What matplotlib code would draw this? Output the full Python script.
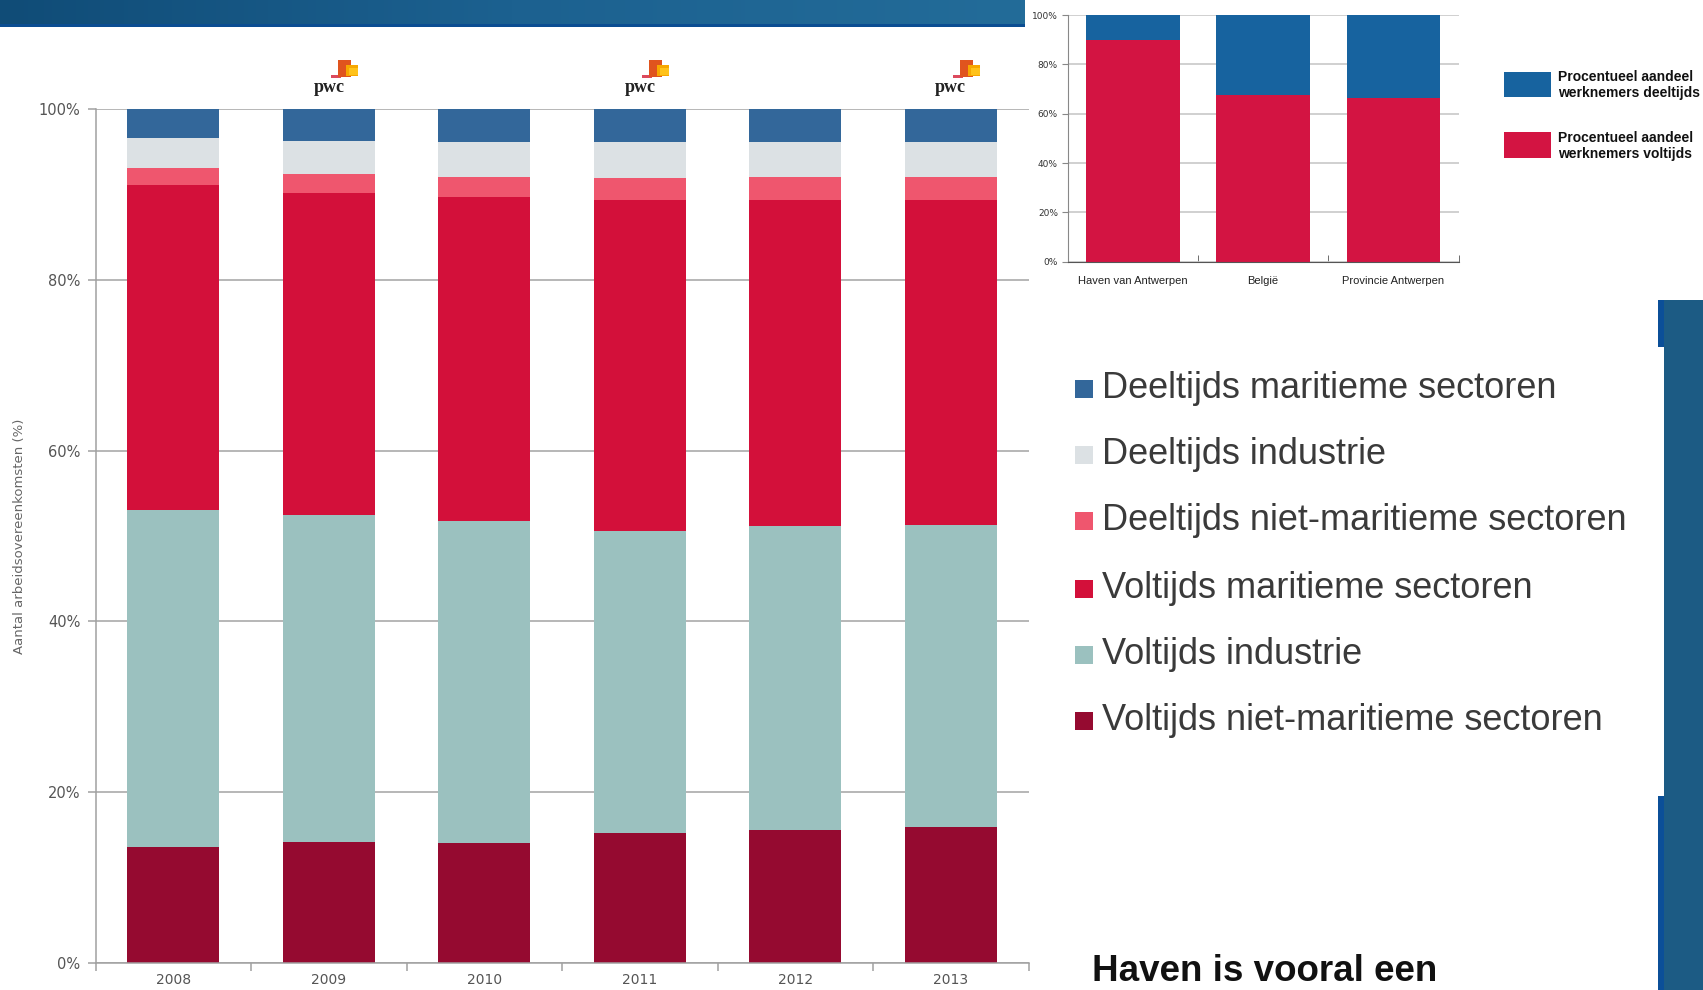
import numpy as np
import matplotlib.pyplot as plt
from matplotlib.patches import Rectangle
from matplotlib.colors import LinearSegmentedColormap

W, H = 1703, 990

# arbeidsovereenkomsten per jaar (%), van onder naar boven gestapeld
years = ['2008', '2009', '2010', '2011', '2012', '2013']
voltijds_niet_maritiem = [13.6, 14.2, 14.1, 15.2, 15.6, 15.9]
voltijds_industrie = [39.4, 38.2, 37.6, 35.4, 35.6, 35.4]
voltijds_maritiem = [38.1, 37.7, 38.0, 38.7, 38.1, 38.0]
deeltijds_niet_maritiem = [2.0, 2.3, 2.3, 2.6, 2.7, 2.7]
deeltijds_industrie = [3.5, 3.8, 4.1, 4.2, 4.1, 4.1]
deeltijds_maritiem = [3.4, 3.8, 3.9, 3.9, 3.9, 3.9]

series_names = ['Voltijds niet-maritieme sectoren', 'Voltijds industrie',
                'Voltijds maritieme sectoren', 'Deeltijds niet-maritieme sectoren',
                'Deeltijds industrie', 'Deeltijds maritieme sectoren']
series_colors = ['#950a30', '#9bc1bf', '#d3103a', '#ef566e', '#dce1e4', '#33679a']

# vergelijking voltijds / deeltijds
regions = ['Haven van Antwerpen', 'België', 'Provincie Antwerpen']
aandeel_voltijds = [89.9, 67.8, 66.5]
aandeel_deeltijds = [10.1, 32.2, 33.5]


def fig_box(x0, y0, x1, y1):
    # pixel box (top-left origin) -> figure fraction rect
    return [x0 / W, 1 - y1 / H, (x1 - x0) / W, (y1 - y0) / H]


def add_rect(fig, x0, y0, x1, y1, color):
    l, b, w, h = fig_box(x0, y0, x1, y1)
    fig.add_artist(Rectangle((l, b), w, h, transform=fig.transFigure,
                             facecolor=color, edgecolor='none'))


fig = plt.figure(figsize=(W / 100, H / 100), dpi=100)

# header band with gradient
band = fig.add_axes(fig_box(0, 0, 1025, 24))
grad = np.linspace(0, 1, 256).reshape(1, -1)
cmap = LinearSegmentedColormap.from_list('band', ['#104c77', '#1c6190', '#236c99'])
band.imshow(grad, aspect='auto', cmap=cmap)
band.axis('off')
add_rect(fig, 0, 24, 1025, 27, '#0b4d92')

# main stacked chart
ax = fig.add_axes(fig_box(95.6, 108.6, 1028.5, 963.4))
x = np.arange(len(years))
data = [voltijds_niet_maritiem, voltijds_industrie, voltijds_maritiem,
        deeltijds_niet_maritiem, deeltijds_industrie, deeltijds_maritiem]
bottom = np.zeros(len(years))
for vals, name, col in zip(data, series_names, series_colors):
    ax.bar(x, vals, 0.59, bottom=bottom, color=col, label=name, zorder=2)
    bottom += np.array(vals)

ax.set_xlim(-0.5, 5.5)
ax.set_ylim(0, 100)
ax.set_yticks([0, 20, 40, 60, 80, 100])
ax.set_yticklabels(['0%', '20%', '40%', '60%', '80%', '100%'])
ax.yaxis.grid(True, color='#a3a3a3', linewidth=1.1, zorder=0)
ax.set_axisbelow(True)
for s in ['top', 'right']:
    ax.spines[s].set_visible(False)
for s in ['left', 'bottom']:
    ax.spines[s].set_color('#a0a0a0')
    ax.spines[s].set_linewidth(1.1)
ax.tick_params(axis='y', length=6, width=1.1, color='#a0a0a0', pad=5,
               labelsize=10.5, labelcolor='#555555')
ax.set_xticks(x)
ax.set_xticklabels(years)
ax.set_xticks(np.arange(-0.5, 6, 1), minor=True)
ax.tick_params(axis='x', which='major', length=0, pad=7, labelsize=10,
               labelcolor='#555555')
ax.tick_params(axis='x', which='minor', length=6, width=1.1, color='#a0a0a0')
fig.text(20 / W, 1 - 536 / H, 'Aantal arbeidsovereenkomsten (%)', rotation=90,
         ha='center', va='center', fontsize=9.5, color='#666666')


def ax_y(ypix):
    return (963.4 - ypix) / (963.4 - 108.6)


# pwc logos above 2009, 2011, 2013
px_per_unit = (1028.5 - 95.6) / 6
trans = ax.get_xaxis_transform()
for i in [1, 3, 5]:
    ax.text(i, ax_y(88), 'pwc', transform=trans, ha='center', va='center',
            fontsize=13, fontweight='bold', family='Liberation Serif',
            color='#222222', clip_on=False)
    pieces = [(2, 75.5, 12, 77.5, '#dc4a5e'),
              (9, 60, 22, 77, '#e0541e'),
              (17, 65, 29, 76.5, '#f7a800'),
              (20, 68, 29, 75, '#ffc21a')]
    for x0, y0, x1, y1, col in pieces:
        ax.add_patch(Rectangle((i + x0 / px_per_unit, ax_y(y1)),
                               (x1 - x0) / px_per_unit, ax_y(y0) - ax_y(y1),
                               transform=trans, facecolor=col, edgecolor='none',
                               clip_on=False))

# small comparison chart
sax = fig.add_axes(fig_box(1067.6, 15.2, 1458.6, 261.7))
xs = np.arange(len(regions))
sax.bar(xs, aandeel_voltijds, 0.72, color='#d31442', zorder=2)
sax.bar(xs, aandeel_deeltijds, 0.72, bottom=aandeel_voltijds, color='#17639f', zorder=2)
sax.set_xlim(-0.5, 2.5)
sax.set_ylim(0, 100)
sax.set_yticks([0, 20, 40, 60, 80, 100])
sax.set_yticklabels(['0%', '20%', '40%', '60%', '80%', '100%'])
sax.yaxis.grid(True, color='#c8c8c8', linewidth=1.2, zorder=0)
sax.set_axisbelow(True)
for s in ['top', 'right']:
    sax.spines[s].set_visible(False)
sax.spines['left'].set_color('#888888')
sax.spines['bottom'].set_color('#555555')
sax.tick_params(axis='y', length=4, color='#888888', pad=3, labelsize=6.5,
                labelcolor='#333333')
sax.set_xticks(xs)
sax.set_xticklabels(regions, family=['Liberation Sans Narrow', 'Liberation Sans'])
sax.set_xticks([0.5, 1.5, 2.5], minor=True)
sax.tick_params(axis='x', which='major', length=0, pad=10, labelsize=8,
                labelcolor='#222222')
sax.tick_params(axis='x', which='minor', direction='in', length=5, color='#555555')

add_rect(fig, 1504, 72, 1551, 97, '#17639f')
add_rect(fig, 1504, 132, 1551, 158, '#d31442')
for ytop, txt in [(85, 'Procentueel aandeel\nwerknemers deeltijds'),
                  (146, 'Procentueel aandeel\nwerknemers voltijds')]:
    fig.text(1558 / W, 1 - ytop / H, txt, ha='left', va='center', fontsize=10,
             fontweight='bold', color='#111111', linespacing=1.25,
             family=['Liberation Sans Narrow', 'Liberation Sans'])

# big legend
legend_rows = [389, 455, 521, 589, 655, 721]
for yc, name, col in zip(legend_rows, series_names[::-1], series_colors[::-1]):
    add_rect(fig, 1075, yc - 9, 1093, yc + 9, col)
    fig.text(1102 / W, 1 - yc / H, name, ha='left', va='center', fontsize=26,
             color='#3a3a3a', family='Liberation Sans')

fig.text(1092 / W, 1 - 981 / H, 'Haven is vooral een', ha='left', va='baseline',
         fontsize=26.5, fontweight='bold', color='#111111', family='Liberation Sans')

# right-hand panel
add_rect(fig, 1664, 300, W, H, '#1c5b84')
add_rect(fig, 1658, 300, 1664, 347, '#0b4f98')
add_rect(fig, 1658, 796, 1664, H, '#0b4f98')

fig.savefig('out.png', dpi=100)
